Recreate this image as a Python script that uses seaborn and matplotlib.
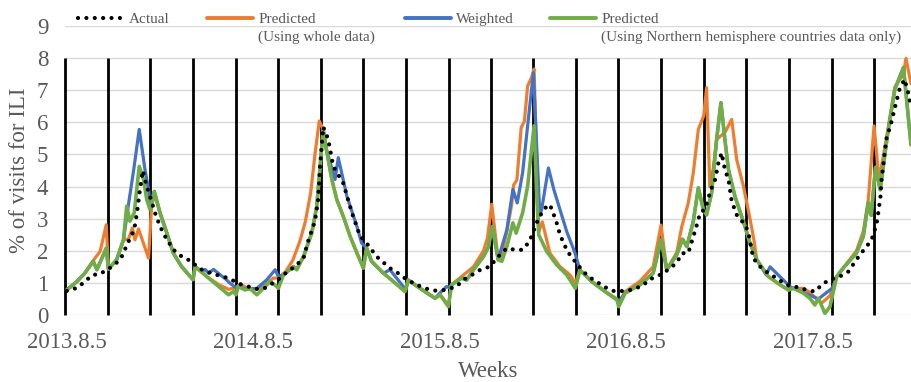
import matplotlib
matplotlib.use("Agg")
import matplotlib.pyplot as plt
from matplotlib.lines import Line2D
import seaborn as sns

# ---------------- data (weeks since 2013-08-05, % of visits for ILI) ----------------
actual_weeks = [0, 3.0, 5.2, 7.2, 9.1, 11.6, 13.9, 15.5, 16.7, 17.8,
                18.8, 19.6, 20.4, 21.2, 22.3, 23.2, 24.6, 26.0, 27.9, 30.2,
                32.3, 34.8, 36.7, 39.0, 41.8, 44.1, 46.4, 48.8, 51.1, 53.4,
                55.5, 57.5, 59.5, 61.0, 62.3, 64.0, 66.0, 67.4, 69.2, 70.1,
                70.6, 71.5, 72.9, 74.3, 77.1, 79.5, 81.8, 83.2, 86.4, 90.1,
                92.4, 94.8, 97.6, 99.9, 102.7, 105.5, 108.7, 110.6, 113.0, 115.2,
                118.0, 120.3, 122.7, 125.0, 127.1, 129.0, 130.1, 131.2, 133.0, 134.7,
                135.8, 136.8, 137.5, 139.6, 141.7, 143.6, 145.4, 147.7, 150.0, 152.9,
                156.1, 158.2, 160.8, 162.6, 165.4, 167.7, 170.1, 171.5, 173.3, 174.7,
                175.7, 176.6, 178.0, 179.6, 180.8, 181.7, 182.6, 183.5, 184.5, 185.4,
                186.8, 189.1, 190.0, 191.4, 193.3, 195.6, 197.9, 200.7, 203.5, 206.3,
                208.6, 210.5, 212.8, 215.1, 217.9, 221.1, 223.0, 224.4, 225.3, 226.0,
                226.5, 226.9, 227.2, 228.5, 229.9, 230.8, 232.2, 233.6, 234.5, 235.4]
actual_vals = [0.75, 0.85, 1.06, 1.25, 1.27, 1.43, 1.63, 1.85, 2.17, 2.43,
               2.66, 3.2, 3.9, 4.5, 4.0, 3.7, 3.18, 2.76, 2.34, 1.98,
               1.80, 1.67, 1.46, 1.35, 1.25, 1.18, 1.07, 0.94, 0.87, 0.80,
               0.85, 1.0, 1.15, 1.30, 1.40, 1.55, 1.77, 2.34, 2.92, 3.6,
               4.6, 5.86, 5.47, 4.63, 4.1, 3.18, 2.45, 2.3, 1.82, 1.46,
               1.30, 1.10, 0.94, 0.83, 0.76, 0.78, 0.89, 1.10, 1.25, 1.40,
               1.51, 1.82, 2.08, 2.03, 2.03, 2.29, 2.60, 2.92, 3.30, 3.44,
               3.12, 2.80, 2.50, 1.98, 1.67, 1.41, 1.20, 1.04, 0.87, 0.73,
               0.76, 0.80, 0.94, 1.11, 1.25, 1.41, 1.63, 1.92, 1.93, 2.45,
               2.81, 3.18, 3.30, 3.90, 4.22, 4.74, 5.05, 4.53, 4.22, 3.54,
               3.12, 2.81, 2.60, 1.77, 1.51, 1.30, 1.15, 0.94, 0.87, 0.78,
               0.73, 0.94, 1.11, 1.17, 1.35, 1.87, 2.13, 2.34, 2.65, 2.96,
               3.38, 3.70, 4.22, 5.47, 5.99, 6.41, 7.03, 7.34, 6.98, 6.5]

pred_whole_weeks = [0, 2.8, 5.0, 7.2, 9.3, 11.0, 11.6, 13.9, 15.8, 17.2,
                    18.3, 19.0, 20.0, 22.8, 23.7, 24.6, 26.0, 27.9, 29.7, 32.0,
                    34.4, 35.2, 35.8, 39.0, 42.3, 45.1, 47.2, 48.3, 50.1, 53.0,
                    55.5, 57.6, 59.0, 61.0, 63.0, 65.0, 66.5, 68.0, 69.2, 70.4,
                    71.5, 72.4, 73.9, 75.3, 77.1, 79.0, 80.9, 82.7, 83.6, 85.0,
                    88.3, 91.1, 94.3, 95.2, 98.5, 102.7, 104.1, 106.4, 107.3, 110.1,
                    113.4, 116.2, 117.3, 118.5, 120.3, 121.3, 122.7, 124.0, 124.6, 125.5,
                    126.7, 127.6, 128.5, 129.6, 130.3, 131.6, 132.6, 134.7, 137.5, 140.3,
                    141.8, 143.1, 146.4, 150.1, 153.4, 153.9, 155.7, 159.8, 163.5, 165.7,
                    167.3, 170.1, 171.5, 173.3, 174.7, 176.1, 177.6, 178.4, 179.3, 180.3,
                    181.2, 183.5, 185.4, 186.8, 188.7, 190.5, 191.6, 192.4, 195.6, 198.9,
                    201.2, 202.6, 205.4, 207.2, 208.6, 210.4, 212.8, 214.7, 216.5, 220.2,
                    222.1, 223.5, 225.1, 226.5, 229.0, 230.9, 233.3, 234.0, 235.4]
pred_whole_vals = [0.78, 1.04, 1.30, 1.67, 1.98, 2.81, 1.43, 1.72, 2.34, 2.36,
                   2.71, 2.34, 2.68, 1.77, 3.49, 3.70, 3.18, 2.55, 1.93, 1.51,
                   1.20, 1.10, 1.51, 1.20, 0.95, 0.80, 0.85, 0.97, 0.85, 0.80,
                   0.95, 1.15, 1.15, 1.35, 1.70, 2.30, 2.90, 3.80, 5.00, 6.04,
                   5.78, 5.15, 4.22, 3.59, 3.07, 2.45, 1.93, 1.46, 2.08, 1.67,
                   1.30, 1.04, 0.73, 1.09, 0.83, 0.52, 0.63, 0.30, 0.94, 1.20,
                   1.50, 2.00, 2.40, 3.45, 1.72, 1.90, 2.60, 3.40, 4.05, 4.20,
                   5.83, 6.04, 7.13, 7.40, 7.66, 2.60, 2.90, 1.93, 1.51, 1.25,
                   0.99, 1.40, 1.04, 0.73, 0.50, 0.35, 0.73, 1.05, 1.50, 2.80,
                   1.41, 1.95, 2.76, 3.49, 4.43, 5.78, 6.20, 7.08, 4.00, 4.60,
                   5.47, 5.68, 6.09, 4.84, 4.00, 3.00, 2.34, 1.72, 1.20, 0.94,
                   0.78, 0.83, 0.83, 0.70, 0.55, 0.36, 0.60, 1.20, 1.46, 2.00,
                   2.60, 3.60, 5.89, 4.20, 5.80, 7.10, 7.50, 7.99, 7.20]

weighted_weeks = [0, 2.8, 5.0, 7.4, 8.4, 11.0, 11.6, 13.9, 15.8, 17.2,
                  18.6, 20.2, 21.8, 22.8, 23.3, 24.4, 26.0, 27.9, 29.7, 32.0,
                  34.4, 35.2, 35.8, 37.6, 38.6, 39.5, 40.9, 44.6, 45.5, 47.2,
                  47.8, 50.0, 53.0, 55.8, 58.1, 59.0, 60.4, 63.2, 64.1, 66.0,
                  68.3, 69.7, 70.6, 71.5, 72.4, 74.8, 75.7, 78.1, 80.9, 82.2,
                  83.6, 85.0, 88.3, 90.1, 93.8, 94.6, 95.2, 98.5, 102.7, 104.0,
                  105.9, 106.6, 107.3, 110.1, 111.5, 113.4, 116.2, 117.6, 118.6, 120.3,
                  120.8, 122.7, 124.4, 125.6, 127.1, 128.5, 130.1, 131.9, 132.4, 134.3,
                  135.8, 139.4, 141.7, 143.1, 146.4, 150.1, 153.4, 153.9, 155.7, 159.8,
                  163.5, 165.7, 167.3, 170.1, 171.7, 172.9, 174.7, 176.1, 177.5, 178.4,
                  179.8, 181.2, 182.4, 183.5, 184.5, 186.3, 189.1, 190.5, 192.4, 195.0,
                  196.1, 201.7, 205.4, 209.6, 211.4, 213.7, 214.7, 216.5, 220.2, 222.1,
                  223.5, 224.3, 225.5, 226.8, 229.0, 230.9, 233.3, 235.4]
weighted_vals = [0.78, 1.04, 1.30, 1.67, 1.41, 2.08, 1.43, 1.72, 2.34, 3.44,
                 4.48, 5.78, 4.53, 3.91, 3.30, 3.85, 3.18, 2.55, 1.93, 1.51,
                 1.20, 1.10, 1.51, 1.35, 1.42, 1.30, 1.42, 1.09, 0.99, 0.85,
                 0.89, 0.80, 0.83, 1.10, 1.41, 1.20, 1.25, 1.51, 1.41, 1.82,
                 2.55, 3.39, 4.60, 5.78, 5.15, 4.22, 4.90, 3.70, 2.76, 2.24,
                 2.08, 1.67, 1.30, 1.41, 0.89, 0.80, 1.09, 0.83, 0.52, 0.68,
                 0.89, 0.85, 0.94, 1.15, 1.09, 1.41, 1.82, 2.13, 2.76, 1.72,
                 1.93, 2.65, 3.91, 3.49, 4.43, 5.89, 7.55, 3.10, 3.28, 4.58,
                 3.91, 2.60, 1.93, 1.40, 1.04, 0.73, 0.47, 0.40, 0.70, 0.94,
                 1.30, 2.34, 1.41, 1.88, 2.36, 2.13, 2.92, 3.96, 3.28, 3.12,
                 3.80, 5.47, 6.61, 5.47, 4.53, 3.70, 2.76, 2.24, 1.72, 1.25,
                 1.50, 0.88, 0.70, 0.50, 0.66, 0.86, 1.20, 1.46, 1.93, 2.45,
                 3.49, 3.10, 4.60, 3.90, 5.73, 7.03, 7.71, 5.30]

pred_north_weeks = [0, 2.8, 5.0, 7.4, 8.4, 11.0, 11.6, 13.9, 15.8, 16.7,
                    17.6, 18.8, 20.2, 21.4, 22.3, 23.2, 24.4, 26.0, 27.9, 29.7,
                    32.0, 34.4, 35.2, 35.8, 39.0, 42.3, 45.1, 46.5, 47.2, 47.8,
                    49.7, 51.0, 53.0, 56.7, 58.5, 59.0, 60.4, 63.2, 64.1, 66.0,
                    68.3, 69.7, 70.6, 71.5, 72.4, 73.9, 75.3, 77.1, 79.0, 80.9,
                    82.7, 83.6, 85.0, 88.3, 91.1, 94.3, 95.2, 98.5, 102.7, 104.1,
                    106.4, 107.3, 110.1, 111.5, 113.4, 116.2, 117.6, 118.6, 120.3, 121.3,
                    122.7, 124.4, 125.3, 127.1, 128.5, 130.3, 131.1, 131.6, 133.8, 136.6,
                    139.4, 141.8, 143.1, 146.4, 150.1, 153.4, 153.9, 155.7, 159.8, 163.5,
                    165.7, 167.3, 170.1, 171.7, 172.9, 174.7, 176.1, 177.5, 178.4, 179.8,
                    181.2, 182.4, 183.5, 184.5, 186.3, 189.1, 190.5, 192.4, 195.6, 198.9,
                    201.2, 202.6, 205.4, 207.2, 208.6, 209.6, 211.4, 212.8, 214.7, 216.5,
                    220.2, 222.1, 223.5, 224.3, 225.5, 226.8, 229.0, 230.9, 233.3, 235.4]
pred_north_vals = [0.78, 1.04, 1.30, 1.67, 1.41, 2.08, 1.43, 1.72, 2.34, 3.39,
                   2.92, 3.18, 4.63, 4.22, 3.59, 3.28, 3.85, 3.18, 2.55, 1.93,
                   1.51, 1.20, 1.10, 1.51, 1.20, 0.89, 0.63, 0.73, 0.63, 0.89,
                   0.78, 0.83, 0.63, 1.04, 0.89, 0.83, 1.25, 1.51, 1.41, 1.82,
                   2.55, 3.39, 4.60, 5.78, 5.15, 4.22, 3.59, 3.07, 2.45, 1.93,
                   1.46, 2.08, 1.67, 1.30, 1.04, 0.73, 1.09, 0.83, 0.52, 0.63,
                   0.26, 0.94, 1.15, 1.09, 1.41, 1.82, 2.13, 2.76, 1.72, 1.67,
                   2.13, 2.87, 2.55, 3.18, 4.01, 5.89, 3.59, 2.50, 1.98, 1.56,
                   1.25, 0.83, 1.40, 1.04, 0.73, 0.47, 0.26, 0.68, 0.94, 1.30,
                   2.34, 1.41, 1.88, 2.36, 2.13, 2.92, 3.96, 3.28, 3.12, 3.80,
                   5.47, 6.61, 5.47, 4.53, 3.70, 2.76, 2.24, 1.72, 1.20, 0.94,
                   0.78, 0.83, 0.68, 0.52, 0.31, 0.52, 0.05, 0.26, 1.20, 1.46,
                   1.93, 2.45, 3.49, 3.10, 4.60, 3.90, 5.73, 7.03, 7.71, 5.30]

# forecast-period boundaries (weeks)
boundary_weeks = [-0.5, 11.4, 23.3, 35.2, 47.1, 59.0, 70.9, 82.7, 94.6, 106.6,
                  118.4, 130.0, 141.9, 153.8, 165.7, 177.7, 189.4, 201.4, 213.4, 225.1]

tick_weeks = [0, 52, 104, 156, 208]
tick_labels = ["2013.8.5", "2014.8.5", "2015.8.5", "2016.8.5", "2017.8.5"]

series_names = ["Actual", "Predicted", "Weighted", "Predicted"]
series_sublabels = ["", "(Using whole data)", "", "(Using Northern hemisphere countries data only)"]

# ---------------- styling ----------------
sns.set_theme(style="white")
plt.rcParams['font.family'] = ['Liberation Serif', 'DejaVu Serif']
TEXT = '#595959'
GRID = '#D9D9D9'
ORANGE = '#ED7D31'
BLUE = '#4472C4'
GREEN = '#70AD47'
DOTS = (0, (0.01, 2.0))

W, H = 911, 382
fig = plt.figure(figsize=(W / 100, H / 100), dpi=100)
ax = fig.add_axes([65 / W, 67 / H, 846 / W, 289 / H])
ax.set_xlim(-0.5, 235.4)
ax.set_ylim(0, 9)
ax.set_yticks(range(10))
ax.grid(axis='y', color=GRID, lw=1.0)
ax.grid(axis='x', visible=False)
ax.set_axisbelow(True)
for s in ax.spines.values():
    s.set_visible(False)

ax.vlines(boundary_weeks, 0, 8, colors='black', lw=2.0, zorder=2, clip_on=False)

sns.lineplot(x=pred_whole_weeks, y=pred_whole_vals, ax=ax, color=ORANGE, lw=2.3, zorder=3)
sns.lineplot(x=weighted_weeks, y=weighted_vals, ax=ax, color=BLUE, lw=2.3, zorder=4)
sns.lineplot(x=pred_north_weeks, y=pred_north_vals, ax=ax, color=GREEN, lw=2.6, zorder=5)
sns.lineplot(x=actual_weeks, y=actual_vals, ax=ax, color='black', lw=3.0,
             linestyle=DOTS, dash_capstyle='round', zorder=6)

ax.set_xticks(tick_weeks, tick_labels)
ax.tick_params(axis='x', length=4, width=1, color=GRID, pad=8, labelsize=16.5, labelcolor=TEXT)
ax.tick_params(axis='y', length=0, pad=12, labelsize=16.5, labelcolor=TEXT)
ax.set_xlabel('Weeks', fontsize=16.5, color=TEXT, labelpad=6)
ax.set_ylabel('% of visits for ILI', fontsize=16.5, color=TEXT, labelpad=5)

# ---------------- legend (one entry per block, as in the original) ----------------
handles = [
    Line2D([], [], color='black', lw=3.0, linestyle=DOTS, dash_capstyle='round'),
    Line2D([], [], color=ORANGE, lw=2.8),
    Line2D([], [], color=BLUE, lw=2.8),
    Line2D([], [], color=GREEN, lw=2.8),
]
legend_x_px = [78, 207, 405, 550]
legend_y = 1 - 19 / H
legends = []
for h, name, xpx in zip(handles, series_names, legend_x_px):
    lg = fig.legend([h], [name], loc='center left', bbox_to_anchor=(xpx / W, legend_y),
                    frameon=False, borderpad=0, borderaxespad=0, handlelength=3.0,
                    handletextpad=0.35, fontsize=11, labelcolor=TEXT)
    legends.append(lg)

fig.canvas.draw()
renderer = fig.canvas.get_renderer()
for lg, sub in zip(legends, series_sublabels):
    if sub:
        bb = lg.get_texts()[0].get_window_extent(renderer)
        fig.text(bb.x0 / W, 1 - 37 / H, sub, fontsize=11, color=TEXT, ha='left', va='center')

fig.savefig('out.png', dpi=100)
